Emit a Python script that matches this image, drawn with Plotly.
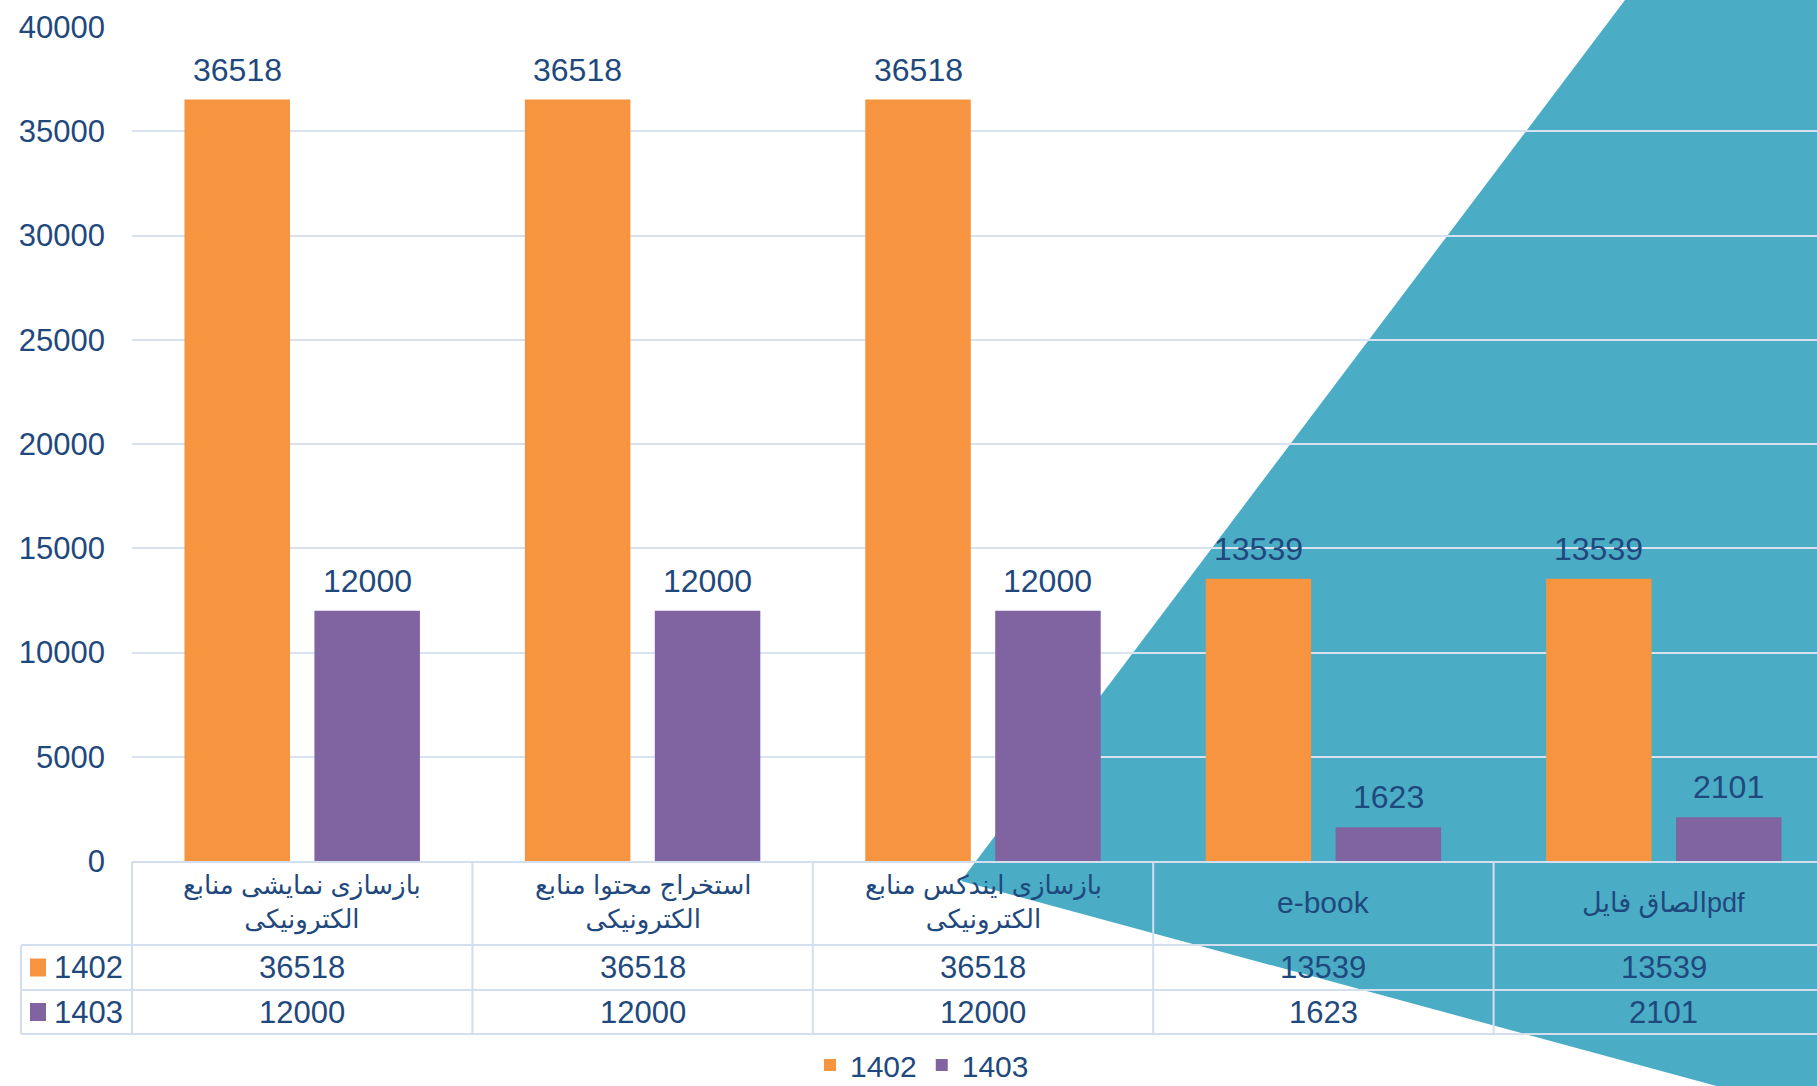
import plotly.graph_objects as go

# ---------------- data ----------------
categories = [
    "بازسازی نمایشی منابع<br>الکترونیکی",
    "استخراج محتوا منابع<br>الکترونیکی",
    "بازسازی ایندکس منابع<br>الکترونیکی",
    "e-book",
    "الصاق فایلpdf",
]
series_names = ["1402", "1403"]
values_1402 = [36518, 36518, 36518, 13539, 13539]
values_1403 = [12000, 12000, 12000, 1623, 2101]
y_ticks = [0, 5000, 10000, 15000, 20000, 25000, 30000, 35000, 40000]

# ---------------- styling ----------------
W, H = 1817, 1086
ML, MR, MT, MB = 132, 0, 27, 225
PW, PH = W - ML - MR, H - MT - MB
GROUP_PX = 340.4
ORANGE = "#F7943F"
PURPLE = "#8064A2"
TEXT = "#1F497D"
GRID = "#D9E3F0"
TABLE_LINE = "#D3DFEE"
TEAL = "#4BACC6"
FONT = "Liberation Sans, Arial, DejaVu Sans, sans-serif"


def px_x(p):
    return (p - ML) / PW


def px_y(p):
    return (MT + PH - p) / PH


xs = list(range(len(categories)))
series_values = [values_1402, values_1403]
colors = [ORANGE, PURPLE]

fig = go.Figure()
for name, vals, col in zip(series_names, series_values, colors):
    fig.add_trace(go.Bar(
        x=xs, y=vals, name=name,
        marker=dict(color=col, line=dict(width=0)),
        hoverinfo="x+y",
    ))

bargap = 0.2366
bargroupgap = 0.188
slot = (1 - bargap) / 2
offsets = [-slot / 2, slot / 2]

annotations = []
# data labels above bars
for off, vals in zip(offsets, series_values):
    for i, v in zip(xs, vals):
        annotations.append(dict(
            x=i + off, y=v, xref="x", yref="y", text=str(v),
            showarrow=False, yanchor="middle", yshift=30,
            font=dict(size=32, color=TEXT, family=FONT),
        ))

# table: header row (categories)
for i, c in zip(xs, categories):
    size = 30 if c.isascii() else (26 if "<br>" in c else 27)
    annotations.append(dict(
        x=i, y=px_y(903), xref="x", yref="paper", text=c,
        showarrow=False, yanchor="middle", xanchor="center",
        font=dict(size=size, color=TEXT, family=FONT),
    ))

# table: value rows
row_centers = [967.5, 1012]
for rc, name, vals in zip(row_centers, series_names, series_values):
    annotations.append(dict(
        x=px_x(125), y=px_y(rc), xref="paper", yref="paper", text=name,
        showarrow=False, yanchor="middle", xanchor="right",
        font=dict(size=31, color=TEXT, family=FONT),
    ))
    for i, v in zip(xs, vals):
        annotations.append(dict(
            x=i, y=px_y(rc), xref="x", yref="paper", text=str(v),
            showarrow=False, yanchor="middle", xanchor="center",
            font=dict(size=31, color=TEXT, family=FONT),
        ))

shapes = []
# teal decorative triangle
pts = [(1625, 0), (W + 5, 0), (W + 5, H + 5), (1735, H + 5), (961, 881)]
path = "M " + " L ".join(f"{px_x(a):.5f},{px_y(b):.5f}" for a, b in pts) + " Z"
shapes.append(dict(type="path", path=path, xref="paper", yref="paper",
                   fillcolor=TEAL, line=dict(width=0), layer="below"))

# table lines
lw = 2
shapes.append(dict(type="line", xref="paper", yref="paper",
                   x0=0, x1=1.02, y0=px_y(862), y1=px_y(862),
                   line=dict(color=TABLE_LINE, width=lw), layer="above"))
for yy in [945, 990, 1034]:
    shapes.append(dict(type="line", xref="paper", yref="paper",
                       x0=px_x(21), x1=1.02, y0=px_y(yy), y1=px_y(yy),
                       line=dict(color=TABLE_LINE, width=lw), layer="above"))
shapes.append(dict(type="line", xref="paper", yref="paper",
                   x0=px_x(21), x1=px_x(21), y0=px_y(945), y1=px_y(1034),
                   line=dict(color=TABLE_LINE, width=lw), layer="above"))
shapes.append(dict(type="line", xref="paper", yref="paper",
                   x0=0, x1=0, y0=px_y(862), y1=px_y(1034),
                   line=dict(color=TABLE_LINE, width=lw), layer="above"))
for i in xs[1:]:
    shapes.append(dict(type="line", xref="x", yref="paper",
                       x0=i - 0.5, x1=i - 0.5, y0=px_y(862), y1=px_y(1034),
                       line=dict(color=TABLE_LINE, width=lw), layer="above"))
for rc, col in zip(row_centers, colors):
    shapes.append(dict(type="rect", xref="paper", yref="paper",
                       x0=px_x(30), x1=px_x(46), y0=px_y(rc - 9), y1=px_y(rc + 9),
                       fillcolor=col, line=dict(width=0), layer="above"))

fig.update_layout(
    width=W, height=H,
    margin=dict(l=ML, r=MR, t=MT, b=MB, autoexpand=False),
    paper_bgcolor="white",
    plot_bgcolor="rgba(0,0,0,0)",
    barmode="group",
    bargap=bargap,
    bargroupgap=bargroupgap,
    font=dict(family=FONT, color=TEXT),
    showlegend=True,
    legend=dict(
        orientation="h", x=px_x(922), xanchor="center", y=px_y(1065), yanchor="middle",
        font=dict(size=30, color=TEXT, family=FONT), bgcolor="rgba(0,0,0,0)",
        itemwidth=30, tracegroupgap=0,
    ),
    xaxis=dict(
        range=[-0.5, -0.5 + PW / GROUP_PX],
        showticklabels=False, showgrid=False, zeroline=False, showline=False,
        ticks="", fixedrange=True,
    ),
    yaxis=dict(
        range=[0, 40000], tickvals=y_ticks, ticktext=[str(t) for t in y_ticks],
        showgrid=True, gridcolor=GRID, gridwidth=2,
        zeroline=False, showline=False, ticks="",
        ticklabelstandoff=26,
        tickfont=dict(size=31, color=TEXT, family=FONT),
    ),
    annotations=annotations,
    shapes=shapes,
)

fig.write_html(
    "out.html",
    config={"displayModeBar": False},
    post_script="document.body.style.margin='0';document.body.style.overflow='hidden';",
)
